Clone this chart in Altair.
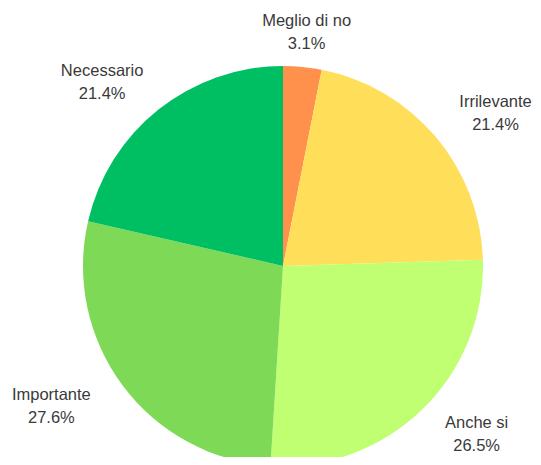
import altair as alt
import pandas as pd

categories = ["Meglio di no", "Irrilevante", "Anche si", "Importante", "Necessario"]
percentages = [3.1, 21.4, 26.5, 27.6, 21.4]
colors = ["#FF914D", "#FFDE59", "#C1FF72", "#7ED957", "#00BF63"]

df = pd.DataFrame({
    "categoria": categories,
    "percentuale": percentages,
    "ordine": list(range(len(categories))),
})

CX, CY = 275, 258   # pie centre inside the plot area
R = 200             # pie radius
LX, LY = 271, 258   # centre of the elliptical label ring
A, B = 284, 235     # label ring semi-axes (horizontal, vertical)
LH = 23             # label line height

pie = alt.Chart(df).mark_arc(x=CX, y=CY, radius=R).encode(
    theta=alt.Theta("percentuale:Q", stack=True),
    order=alt.Order("ordine:Q"),
    color=alt.Color("categoria:N",
                    scale=alt.Scale(domain=categories, range=colors),
                    legend=None),
)

labels = alt.Chart(df).transform_joinaggregate(
    tot="sum(percentuale)"
).transform_window(
    cum="sum(percentuale)",
    sort=[alt.SortField("ordine")],
    frame=[None, 0],
).transform_calculate(
    ang="2*PI*(datum.cum - datum.percentuale/2)/datum.tot",
    lx=f"{LX} + {A}*sin(datum.ang)",
    ly=f"{LY} - {B}*cos(datum.ang)",
    etichetta="datum.categoria + '\\n' + format(datum.percentuale, '.1f') + '%'",
).mark_text(
    align="center", baseline="middle", lineBreak="\n", dy=-LH / 2,
    font="Liberation Sans", fontSize=16.5, lineHeight=LH, color="#3a3a3a",
).encode(
    x=alt.X("lx:Q", scale=None),
    y=alt.Y("ly:Q", scale=None),
    text="etichetta:N",
)

chart = alt.layer(pie, labels).properties(
    width=525, height=449, autosize="none", padding=0
).configure_view(stroke=None)

chart.save("out.html", embed_options={"renderer": "svg", "actions": False})
